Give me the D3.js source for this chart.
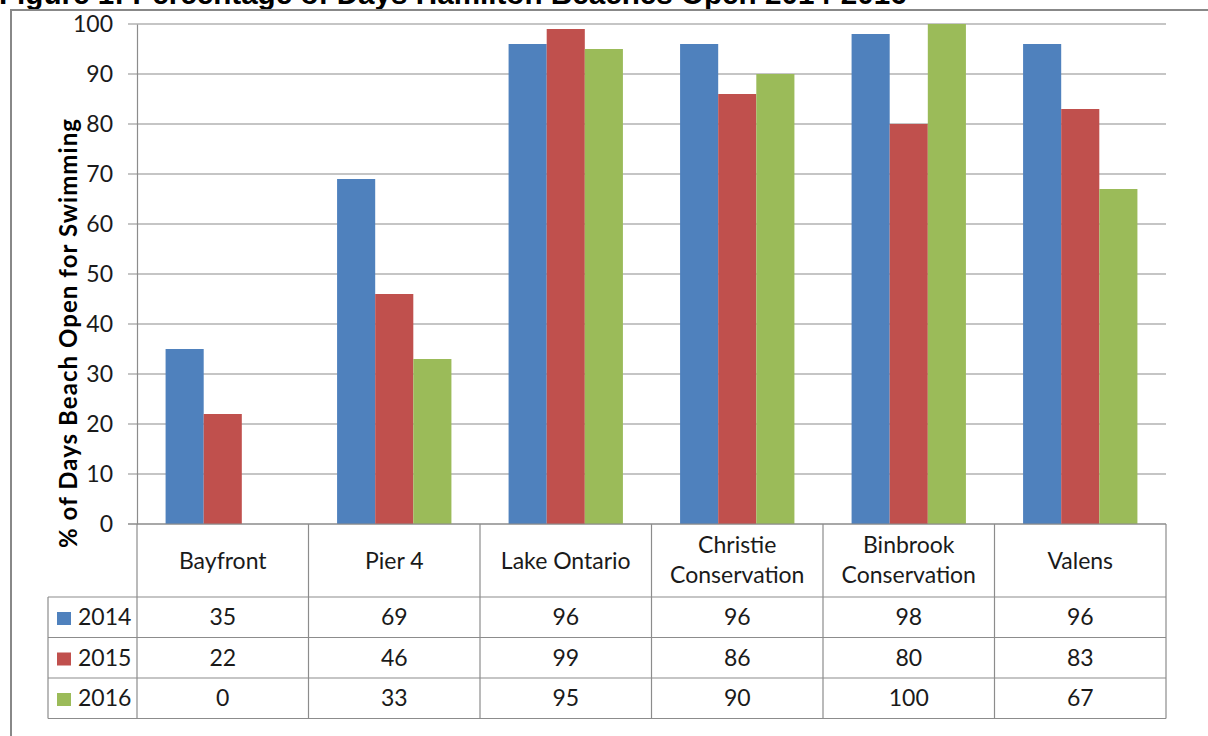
<!DOCTYPE html>
<html>
<head>
<meta charset="utf-8">
<script src="https://cdn.jsdelivr.net/npm/d3@7"></script>
<style>
  body { margin: 0; background: white; }
</style>
</head>
<body>
<div id="canvas"></div>
<script>
// Data
var categories = ["Bayfront", "Pier 4", "Lake Ontario", "Christie Conservation", "Binbrook Conservation", "Valens"];
var years = ["2014", "2015", "2016"];
var values2014 = [35, 69, 96, 96, 98, 96];
var values2015 = [22, 46, 99, 86, 80, 83];
var values2016 = [0, 33, 95, 90, 100, 67];
var yTicks = [0, 10, 20, 30, 40, 50, 60, 70, 80, 90, 100];
var colors = ["#4F81BD", "#C0504D", "#9BBB59"];

var seriesValues = [values2014, values2015, values2016];

// Dimensions
var w = 1208;
var h = 736;
var plot = {left: 137, right: 1166, top: 24, bottom: 524};
var legendLeft = 48;
var headerBottom = 597;
var rowH = 40.5;
var gridColor = "#8c8c8c";
var font = "Lato, 'Open Sans', sans-serif";

var svg = d3.select("#canvas")
    .append("svg")
    .attr("width", w)
    .attr("height", h)
    .style("background-color", "white");

// scale a text's font size so it spans a given width
function fitWidth(sel, size, target) {
    var len = sel.node().getComputedTextLength();
    sel.style("font-size", (size * target / len) + "px");
}

// Title (cut off at the top, as in the source)
var title = svg.append("text")
    .attr("x", -1)
    .attr("y", 4)
    .style("font-family", "'Liberation Sans', Arial, sans-serif")
    .style("font-weight", "bold")
    .style("font-size", "20px")
    .style("fill", "black")
    .text("Figure 1: Percentage of Days Hamilton Beaches Open 2014-2016");
fitWidth(title, 20, 908);

// Outer frame
svg.append("path")
    .attr("d", `M11,${h} L11,10 L${w},10`)
    .attr("fill", "none")
    .attr("stroke", "#888")
    .attr("stroke-width", 2);

// Scales
var x0 = d3.scaleBand()
    .domain(categories)
    .range([plot.left, plot.right])
    .padding(0);

var x1 = d3.scaleBand()
    .domain(years)
    .range([0, x0.bandwidth()])
    .paddingInner(0)
    .paddingOuter(0.75);

var y = d3.scaleLinear()
    .domain([0, 100])
    .range([plot.bottom, plot.top]);

// Gridlines
svg.append("g")
    .selectAll("line")
    .data(yTicks)
    .join("line")
    .attr("x1", plot.left - 9)
    .attr("x2", plot.right)
    .attr("y1", d => y(d))
    .attr("y2", d => y(d))
    .attr("stroke", gridColor)
    .attr("stroke-width", 1.2);

// Y axis
var yAxis = svg.append("g")
    .attr("transform", `translate(${plot.left},0)`)
    .call(d3.axisLeft(y).tickValues(yTicks).tickSize(0).tickPadding(24));
yAxis.select(".domain").attr("stroke", gridColor).attr("stroke-width", 1.2);
yAxis.selectAll("text")
    .style("font-family", font)
    .style("font-size", "23px")
    .style("fill", "#1a1a1a");

// Bars
var seriesData = years.map((yr, i) => ({
    year: yr,
    color: colors[i],
    values: categories.map((c, j) => ({category: c, value: seriesValues[i][j]}))
}));

svg.append("g")
    .selectAll("g")
    .data(seriesData)
    .join("g")
    .attr("fill", d => d.color)
    .each(function(s) {
        d3.select(this).selectAll("rect")
            .data(s.values)
            .join("rect")
            .attr("x", d => x0(d.category) + x1(s.year))
            .attr("width", x1.bandwidth())
            .attr("y", d => y(d.value))
            .attr("height", d => y(0) - y(d.value));
    });

// Axis line at zero on top of bars
svg.append("line")
    .attr("x1", plot.left - 9)
    .attr("x2", plot.right)
    .attr("y1", y(0))
    .attr("y2", y(0))
    .attr("stroke", gridColor)
    .attr("stroke-width", 1.2);

// Data table
var table = svg.append("g");
var tableBottom = headerBottom + rowH * years.length;

// horizontal lines
table.append("line")
    .attr("x1", legendLeft).attr("x2", plot.right)
    .attr("y1", headerBottom).attr("y2", headerBottom);
years.forEach((yr, i) => {
    table.append("line")
        .attr("x1", legendLeft).attr("x2", plot.right)
        .attr("y1", headerBottom + rowH * (i + 1)).attr("y2", headerBottom + rowH * (i + 1));
});
// vertical lines
table.append("line")
    .attr("x1", legendLeft).attr("x2", legendLeft)
    .attr("y1", headerBottom).attr("y2", tableBottom);
categories.forEach(c => {
    table.append("line")
        .attr("x1", x0(c)).attr("x2", x0(c))
        .attr("y1", plot.bottom).attr("y2", tableBottom);
});
table.append("line")
    .attr("x1", plot.right).attr("x2", plot.right)
    .attr("y1", plot.bottom).attr("y2", tableBottom);
table.selectAll("line")
    .attr("stroke", gridColor)
    .attr("stroke-width", 1.2);

// header labels ("... Conservation" goes on two lines)
categories.forEach(c => {
    var cx = x0(c) + x0.bandwidth() / 2;
    var t = table.append("text")
        .attr("text-anchor", "middle")
        .style("font-family", font)
        .style("font-size", "23px")
        .style("fill", "#1a1a1a");
    if (c.endsWith("Conservation")) {
        var words = c.split(" ");
        t.append("tspan").attr("x", cx).attr("y", 553).text(words[0]);
        t.append("tspan").attr("x", cx).attr("y", 583).text(words[1]);
    } else {
        t.attr("x", cx).attr("y", 569).text(c);
    }
});

// rows: legend key + values
seriesData.forEach((s, i) => {
    var rowTop = headerBottom + rowH * i;
    table.append("rect")
        .attr("x", 57)
        .attr("y", rowTop + 15)
        .attr("width", 14)
        .attr("height", 13)
        .attr("fill", s.color);
    table.append("text")
        .attr("x", 78)
        .attr("y", rowTop + 28)
        .style("font-family", font)
        .style("font-size", "23px")
        .style("fill", "#1a1a1a")
        .text(s.year);
    table.selectAll(".v" + i)
        .data(s.values)
        .join("text")
        .attr("class", "v" + i)
        .attr("x", d => x0(d.category) + x0.bandwidth() / 2)
        .attr("y", rowTop + 28)
        .attr("text-anchor", "middle")
        .style("font-family", font)
        .style("font-size", "23px")
        .style("fill", "#1a1a1a")
        .text(d => d.value);
});

// Y axis label
var yLabelText = "% of Days Beach Open for Swimming";
var yLabel = svg.append("text")
    .attr("text-anchor", "middle")
    .attr("transform", "translate(77,333) rotate(-90)")
    .style("font-family", font)
    .style("font-weight", "bold")
    .style("font-size", "24px")
    .style("fill", "black")
    .text(yLabelText);
// widen with letter spacing to span the same length as the source
var labelLen = yLabel.node().getComputedTextLength();
yLabel.style("letter-spacing", ((430 - labelLen) / yLabelText.length) + "px");
</script>
</body>
</html>
